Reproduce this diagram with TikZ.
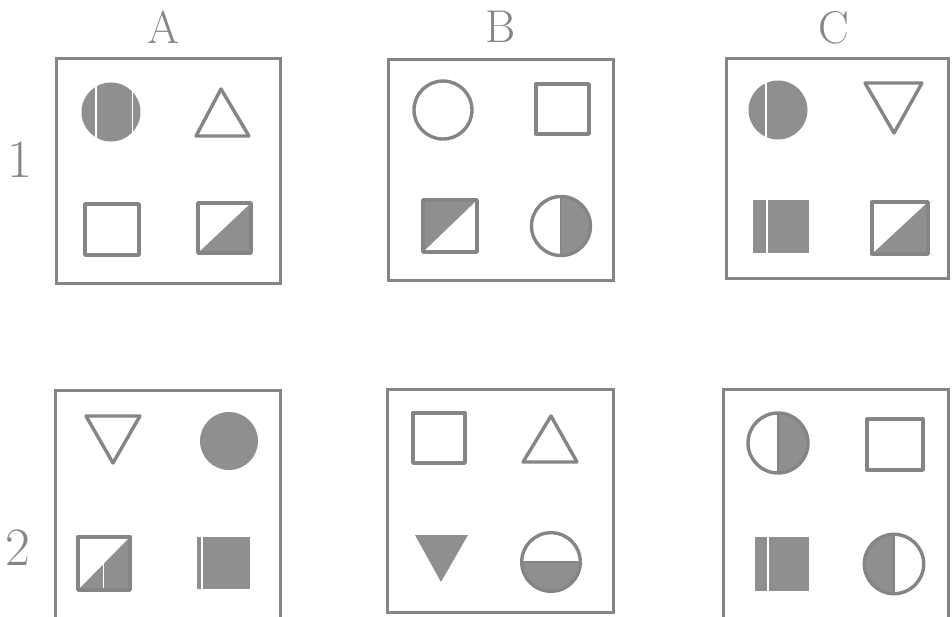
\documentclass[tikz,border=0pt]{standalone}
\definecolor{ink}{gray}{0.52}
\definecolor{shade}{gray}{0.56}
\begin{document}
\begin{tikzpicture}[x=1pt,y=-1pt,
  frame/.style={draw=ink,line width=3pt},
  shp/.style={draw=ink,line width=3.4pt,line join=round},
  fil/.style={fill=shade},
  gap/.style={draw=white,line width=1.6pt},
  lab/.style={text=ink,inner sep=0pt,font=\fontsize{46}{52}\selectfont},
  num/.style={text=ink,inner sep=0pt,font=\fontsize{54}{60}\selectfont}]
\useasboundingbox (0,0) rectangle (952,616);
\clip (0,0) rectangle (952,616);
% labels
\node[lab] (la) at (163,27) {A};
\node[lab] (lb) at (501,27) {B};
\node[lab] (lc) at (834,28) {C};
\node[num] (n1) at (20,160) {1};
\node[num] (n2) at (18,548) {2};
% ---------- A1 ----------
\draw[frame] (56,58) rectangle (280,283);
\fill[fil] (111,112) circle[radius=29.5];
\draw[gap] (96,80) -- (96,144);
\draw[gap,line width=1pt] (132,82) -- (132,142);
\draw[shp] (221,89) -- (249,136) -- (196,136) -- cycle;
\draw[shp] (85,204) rectangle (139,255);
\fill[fil] (198,253) -- (251,203) -- (251,253) -- cycle;
\draw[shp] (198,203) rectangle (251,253);
% ---------- B1 ----------
\draw[frame] (388,59) rectangle (613,280);
\draw[shp] (443,110) circle[radius=29];
\draw[shp] (536,84) rectangle (589,134);
\fill[fil] (423,200) -- (477,200) -- (423,252) -- cycle;
\draw[shp] (423,200) rectangle (477,252);
\begin{scope}
\clip (561,190) rectangle (600,262);
\fill[fil] (561,226) circle[radius=29.5];
\end{scope}
\draw[shp] (561,226) circle[radius=29.5];
\draw[shp,line width=1.6pt] (561,197) -- (561,255);
% ---------- C1 ----------
\draw[frame] (726,58) rectangle (948,278);
\fill[fil] (778,110) circle[radius=29.5];
\draw[gap] (766,78) -- (766,142);
\draw[shp] (865,83) -- (922,83) -- (894,133) -- cycle;
\fill[fil] (753,200) rectangle (809,253);
\draw[gap] (767,198) -- (767,255);
\fill[fil] (872,254) -- (928,202) -- (928,254) -- cycle;
\draw[shp] (872,202) rectangle (928,254);
% ---------- A2 ----------
\draw[frame] (55,390) rectangle (280,640);
\draw[shp] (86,416) -- (140,416) -- (113,463) -- cycle;
\fill[fil] (229,441) circle[radius=29];
\fill[fil] (78,590) -- (130,537) -- (130,590) -- cycle;
\draw[gap,line width=1pt] (103,560) -- (103,592);
\draw[shp] (78,537) rectangle (130,590);
\fill[fil] (197,537) rectangle (250,589);
\draw[gap] (202,535) -- (202,591);
% ---------- B2 ----------
\draw[frame] (387,389) rectangle (613,612);
\draw[shp] (413,413) rectangle (465,463);
\draw[shp] (551,416) -- (577,462) -- (523,462) -- cycle;
\fill[fil] (415,535) -- (468,535) -- (441,582) -- cycle;
\begin{scope}
\clip (515,562) rectangle (590,600);
\fill[fil] (551,562) circle[radius=29.3];
\end{scope}
\draw[shp] (551,562) circle[radius=29.3];
\draw[shp,line width=1.6pt] (522,562) -- (580,562);
% ---------- C2 ----------
\draw[frame] (723,389) rectangle (948,640);
\begin{scope}
\clip (778,405) rectangle (815,480);
\fill[fil] (778,443) circle[radius=30];
\end{scope}
\draw[shp] (778,443) circle[radius=30];
\draw[shp,line width=1.6pt] (778,413) -- (778,473);
\draw[shp] (867,419) rectangle (923,470);
\fill[fil] (755,537) rectangle (809,591);
\draw[gap] (768,535) -- (768,593);
\begin{scope}
\clip (860,525) rectangle (894,600);
\fill[fil] (894,564) circle[radius=29.7];
\end{scope}
\draw[shp] (894,564) circle[radius=29.7];
\draw[shp,line width=1.6pt] (894,534) -- (894,594);
\end{tikzpicture}
\end{document}
